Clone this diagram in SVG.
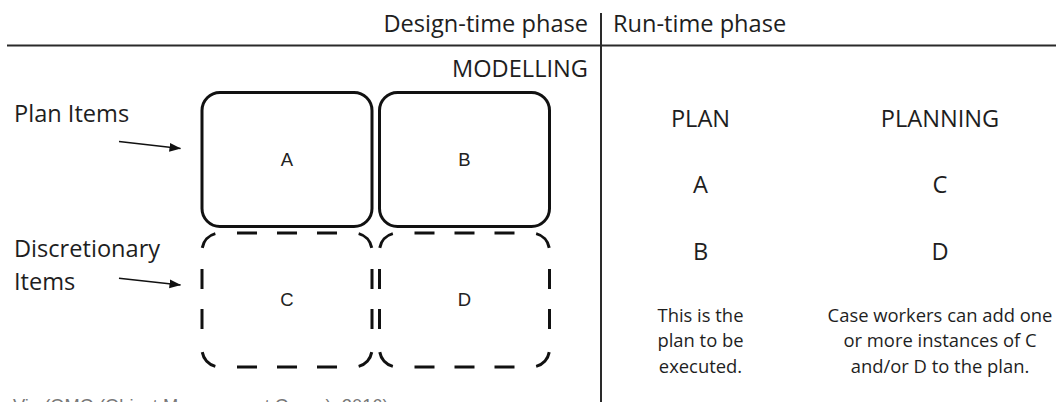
<svg xmlns="http://www.w3.org/2000/svg" width="1056" height="402" viewBox="0 0 1056 402">
<style>
.t{font-family:"Open Sans","Noto Sans",sans-serif;fill:#1e1e1e;}
.big{font-size:23.6px;}
.small{font-size:18.4px;}
.box{font-family:"Liberation Sans",Arial,sans-serif;font-size:18.5px;fill:#222;}
.solid{fill:none;stroke:#111;stroke-width:3;}
.dash{fill:none;stroke:#111;stroke-width:3;stroke-linecap:butt;}
.rule{stroke:#2a2a2a;stroke-width:2;}
.arrow{stroke:#111;stroke-width:1.6;fill:none;}
.src{font-family:"Liberation Sans",Arial,sans-serif;font-size:18.3px;fill:#777;}
</style>
<defs>
<marker id="ah" markerWidth="12" markerHeight="10" refX="11" refY="5" orient="auto" markerUnits="userSpaceOnUse">
<path d="M0,0.6 L11.5,5 L0,9.4 Z" fill="#111"/>
</marker>
<path id="dashbox" class="dash" d="M0.27,14.87 A18,18 0 0 1 13.34,0.61 M35,0 H55 M75,0 H95 M115,0 H135 M156.66,0.61 A18,18 0 0 1 169.73,14.87 M170,36 V56 M170,76 V96 M169.73,119.13 A18,18 0 0 1 156.66,133.39 M135,134 H115 M95,134 H75 M55,134 H35 M13.34,133.39 A18,18 0 0 1 0.27,119.13 M0,96 V76 M0,56 V36"/>
</defs>

<g id="grid">
<line class="rule" x1="7" y1="45.5" x2="1056" y2="45.5"/>
<line class="rule" x1="601" y1="13" x2="601" y2="402"/>
</g>

<g id="headers">
<text class="t big" x="588" y="32" text-anchor="end">Design-time phase</text>
<text class="t big" x="613" y="32">Run-time phase</text>
<text class="t big" x="588" y="77" text-anchor="end">MODELLING</text>
</g>

<g id="labels">
<text class="t big" x="14" y="122">Plan Items</text>
<text class="t big" x="14" y="257">Discretionary</text>
<text class="t big" x="14" y="290">Items</text>
</g>

<g id="connectors">
<line class="arrow" x1="119" y1="141.5" x2="180.5" y2="148.5" marker-end="url(#ah)"/>
<line class="arrow" x1="119" y1="278.3" x2="180.5" y2="285" marker-end="url(#ah)"/>
</g>

<g id="nodeA">
<rect class="solid" x="202" y="92.5" width="170" height="134" rx="18" ry="18"/>
<text class="box" x="287" y="166" text-anchor="middle">A</text>
</g>
<g id="nodeB">
<rect class="solid" x="379.5" y="92.5" width="170" height="134" rx="18" ry="18"/>
<text class="box" x="464.5" y="166" text-anchor="middle">B</text>
</g>
<g id="nodeC">
<use href="#dashbox" x="202" y="233"/>
<text class="box" x="287" y="306" text-anchor="middle">C</text>
</g>
<g id="nodeD">
<use href="#dashbox" x="379.5" y="233"/>
<text class="box" x="464.5" y="306" text-anchor="middle">D</text>
</g>

<g id="plan">
<text class="t big" x="700.5" y="127" text-anchor="middle">PLAN</text>
<text class="t big" x="700.5" y="193" text-anchor="middle">A</text>
<text class="t big" x="700.5" y="260" text-anchor="middle">B</text>
<text class="t small" text-anchor="middle"><tspan x="700.5" y="322">This is the</tspan><tspan x="700.5" y="347">plan to be</tspan><tspan x="700.5" y="373">executed.</tspan></text>
</g>
<g id="planning">
<text class="t big" x="940" y="127" text-anchor="middle">PLANNING</text>
<text class="t big" x="940" y="193" text-anchor="middle">C</text>
<text class="t big" x="940" y="260" text-anchor="middle">D</text>
<text class="t small" text-anchor="middle"><tspan x="940" y="322">Case workers can add one</tspan><tspan x="940" y="347">or more instances of C</tspan><tspan x="940" y="373">and/or D to the plan.</tspan></text>
</g>

<text class="src" x="13" y="411.5">Via (OMG (Object Management Group), 2016)</text>
</svg>
